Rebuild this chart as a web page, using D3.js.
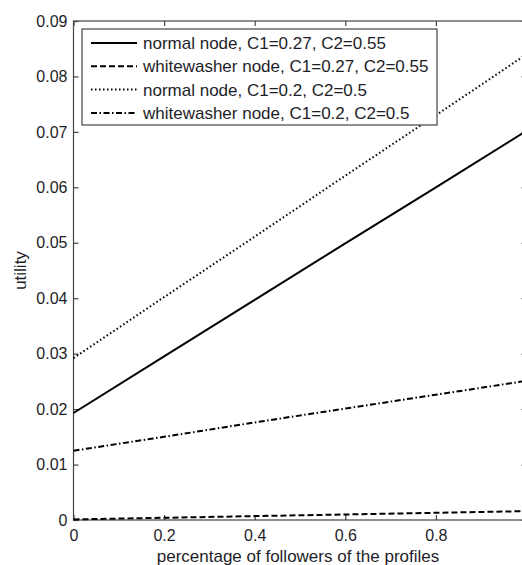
<!DOCTYPE html>
<html><head><meta charset="utf-8">
<script src="https://cdn.jsdelivr.net/npm/d3@7/dist/d3.min.js"></script>
<style>html,body{margin:0;padding:0;background:#fff;overflow:hidden}</style>
</head><body>
<svg id="c" width="522" height="565"></svg>
<script>
const xValues = [0, 0.2, 0.4, 0.6, 0.8, 1.0];
const normal027 = [0.0193, 0.0295, 0.0397, 0.0499, 0.0600, 0.0702];
const white027 = [0.0001, 0.0004, 0.0007, 0.0010, 0.0013, 0.0016];
const normal02 = [0.0292, 0.0402, 0.0511, 0.0621, 0.0730, 0.0840];
const white02 = [0.0125, 0.0150, 0.0176, 0.0201, 0.0226, 0.0251];
const seriesNames = ["normal node, C1=0.27, C2=0.55", "whitewasher node, C1=0.27, C2=0.55",
  "normal node, C1=0.2, C2=0.5", "whitewasher node, C1=0.2, C2=0.5"];
const xTicks = [0, 0.2, 0.4, 0.6, 0.8];
const yTicks = [0, 0.01, 0.02, 0.03, 0.04, 0.05, 0.06, 0.07, 0.08, 0.09];

const dashes = [null, "6,3", "1.5,2.5", "6,2.5,1.5,2.5"];
const seriesData = [normal027, white027, normal02, white02];

const svg = d3.select("#c");
const L = 73.5, R = 526.5, T = 21, B = 520;
const x = d3.scaleLinear().domain([0, 1]).range([L, R]);
const y = d3.scaleLinear().domain([0, 0.09]).range([B, T]);
const font = "Liberation Sans, Arial, sans-serif";
const axisColor = "#444";
const textColor = "#1e1e28";

// axes frame
svg.append("rect").attr("x", L).attr("y", T).attr("width", R - L).attr("height", B - T)
  .attr("fill", "none").attr("stroke", axisColor).attr("stroke-width", 1.2);

const tickLen = 5;
const gx = svg.append("g").attr("transform", `translate(0,${B})`)
  .call(d3.axisBottom(x).tickValues(xTicks).tickFormat(d => d === 0 ? "0" : d3.format(".1f")(d))
    .tickSizeInner(-tickLen).tickSizeOuter(0).tickPadding(10));
const gxt = svg.append("g").attr("transform", `translate(0,${T})`)
  .call(d3.axisTop(x).tickValues(xTicks).tickFormat("").tickSizeInner(-tickLen).tickSizeOuter(0));
const gy = svg.append("g").attr("transform", `translate(${L},0)`)
  .call(d3.axisLeft(y).tickValues(yTicks).tickFormat(d => d === 0 ? "0" : d3.format(".2f")(d))
    .tickSizeInner(-tickLen).tickSizeOuter(0).tickPadding(6));
const gyr = svg.append("g").attr("transform", `translate(${R},0)`)
  .call(d3.axisRight(y).tickValues(yTicks).tickFormat("").tickSizeInner(-tickLen).tickSizeOuter(0));
[gx, gxt, gy, gyr].forEach(g => {
  g.select(".domain").remove();
  g.selectAll(".tick line").attr("stroke", axisColor).attr("stroke-width", 1.2);
  g.selectAll("text").attr("font-family", font).attr("font-size", 16).attr("fill", textColor);
});

// lines
const line = d3.line().x((d, i) => x(xValues[i])).y(d => y(d));
seriesData.forEach((s, k) => {
  svg.append("path").datum(s).attr("d", line).attr("fill", "none")
    .attr("stroke", "#000").attr("stroke-width", 2)
    .attr("stroke-dasharray", dashes[k]);
});

// labels
svg.append("text").attr("x", 298).attr("y", 562).attr("text-anchor", "middle")
  .attr("font-family", font).attr("font-size", 17).attr("fill", textColor)
  .text("percentage of followers of the profiles");
svg.append("text").attr("transform", `translate(26,${(T + B) / 2}) rotate(-90)`).attr("text-anchor", "middle")
  .attr("font-family", font).attr("font-size", 17).attr("fill", textColor).text("utility");

// legend
const lg = svg.append("g");
lg.append("rect").attr("x", 82).attr("y", 29).attr("width", 355).attr("height", 96)
  .attr("fill", "#fff").attr("stroke", axisColor).attr("stroke-width", 1.2);
seriesNames.forEach((n, k) => {
  const cy = 43 + k * 23.3;
  lg.append("line").attr("x1", 91).attr("x2", 137).attr("y1", cy).attr("y2", cy)
    .attr("stroke", "#000").attr("stroke-width", 2).attr("stroke-dasharray", dashes[k]);
  lg.append("text").attr("x", 143).attr("y", cy).attr("dy", "0.35em")
    .attr("font-family", font).attr("font-size", 17).attr("fill", textColor).text(n);
});
</script>
</body></html>
